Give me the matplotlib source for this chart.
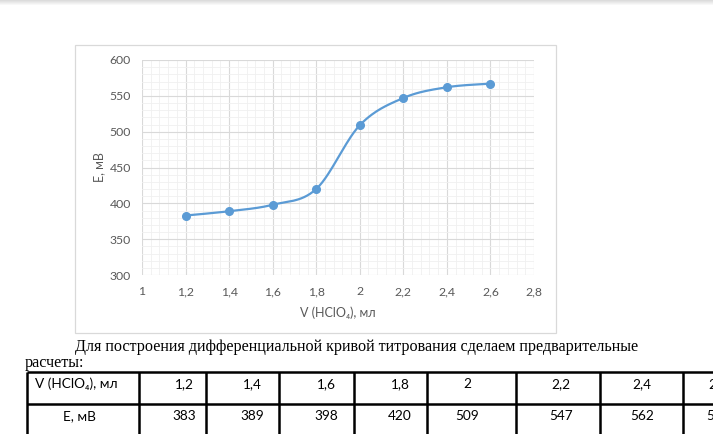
import numpy as np
import matplotlib.pyplot as plt
from matplotlib.ticker import MultipleLocator, FuncFormatter
from matplotlib.patches import Rectangle

volume = [1.2, 1.4, 1.6, 1.8, 2.0, 2.2, 2.4, 2.6]
potential = [383, 389, 398, 420, 509, 547, 562, 567]
table_head = ["V (HClO\u2084), мл", "1,2", "1,4", "1,6", "1,8", "2", "2,2", "2,4", "2,6"]
table_row = ["E, мВ", "383", "389", "398", "420", "509", "547", "562", "567"]

W, H = 713, 434
sans = ["Lato", "DejaVu Sans"]
serif = ["Liberation Serif", "DejaVu Serif"]
blue = "#5B9BD5"
grey = "#595959"

fig = plt.figure(figsize=(W / 100, H / 100), dpi=100)

# page overlay in pixel coordinates
page = fig.add_axes([0, 0, 1, 1])
page.set_xlim(0, W)
page.set_ylim(H, 0)
page.axis("off")

# faint shadow at the top of the page
shade = np.linspace(0.86, 1.0, 6).reshape(-1, 1)
page.imshow(shade, cmap="gray", vmin=0, vmax=1, extent=(0, W, 6, 0), aspect="auto")

# chart frame
page.add_patch(Rectangle((75, 45), 481, 288, fill=False, ec="#d9d9d9", lw=0.9))

# chart
ax = fig.add_axes([142 / W, (H - 275) / H, (534 - 142) / W, (275 - 60) / H])
ax.set_xlim(1, 2.8)
ax.set_ylim(300, 600)
ax.xaxis.set_major_locator(MultipleLocator(0.2))
ax.xaxis.set_minor_locator(MultipleLocator(0.04))
ax.yaxis.set_major_locator(MultipleLocator(50))
ax.yaxis.set_minor_locator(MultipleLocator(10))
ax.grid(which="major", color="#d9d9d9", lw=0.8)
ax.grid(which="minor", color="#f0f0f0", lw=0.6)
ax.set_axisbelow(True)
for s in ax.spines.values():
    s.set_visible(False)
ax.tick_params(which="both", length=0, labelsize=8.8, labelcolor=grey, pad=8)
ax.xaxis.set_major_formatter(FuncFormatter(lambda v, p: f"{v:.1f}".rstrip("0").rstrip(".").replace(".", ",")))
for lab in ax.get_xticklabels() + ax.get_yticklabels():
    lab.set_family(sans)

# Excel-style smoothed line (Catmull-Rom through the points)
x = np.array(volume)
y = np.array(potential, dtype=float)
xp = np.concatenate([[x[0]], x, [x[-1]]])
yp = np.concatenate([[y[0]], y, [y[-1]]])
sx, sy = [], []
t = np.linspace(0, 1, 30)
for i in range(len(x) - 1):
    p0 = np.array([xp[i], yp[i]])
    p1 = np.array([xp[i + 1], yp[i + 1]])
    p2 = np.array([xp[i + 2], yp[i + 2]])
    p3 = np.array([xp[i + 3], yp[i + 3]])
    c1 = p1 + (p2 - p0) / 6
    c2 = p2 - (p3 - p1) / 6
    b = ((1 - t) ** 3)[:, None] * p1 + (3 * (1 - t) ** 2 * t)[:, None] * c1 \
        + (3 * (1 - t) * t ** 2)[:, None] * c2 + (t ** 3)[:, None] * p2
    sx.extend(b[:, 0])
    sy.extend(b[:, 1])
ax.plot(sx, sy, color=blue, lw=1.6, zorder=3)
ax.plot(volume, potential, "o", color=blue, ms=5.5, zorder=4)

ax.set_xlabel("V (HClO\u2084), мл", fontsize=9, color=grey, family=sans, labelpad=7)
ax.set_ylabel("E, мВ", fontsize=9, color=grey, family=sans, labelpad=3)

# document text
page.text(75, 347, "Для построения дифференциальной кривой титрования сделаем предварительные",
          fontsize=11.6, family=serif, va="center", ha="left")
page.text(25, 363, "расчеты:", fontsize=11.6, family=serif, va="center", ha="left")

# table
col_edges = [27, 139, 206, 279, 354, 427, 516, 600, 683, 760]
text_x = [35, 184, 252, 326, 400, 467, 561, 642, 718]
row_y = [384, 416]
lw = 1.8
page.plot([27, W], [372, 372], color="black", lw=lw, solid_capstyle="butt")
page.plot([27, W], [404, 404], color="black", lw=lw, solid_capstyle="butt")
for cx in col_edges:
    page.plot([cx, cx], [372, H + 5], color="black", lw=lw, solid_capstyle="butt")
page.set_xlim(0, W)
page.set_ylim(H, 0)
for j, (hd, rv) in enumerate(zip(table_head, table_row)):
    if j == 0:
        page.text(text_x[0], row_y[0], hd, fontsize=9.8, family=sans, ha="left", va="center")
        page.text(79, row_y[1], rv, fontsize=9.8, family=sans, ha="center", va="center")
    else:
        page.text(text_x[j], row_y[0], hd, fontsize=9.8, family=sans, ha="center", va="center")
        page.text(text_x[j], row_y[1], rv, fontsize=9.8, family=sans, ha="center", va="center")

fig.savefig("out.png", dpi=100)
